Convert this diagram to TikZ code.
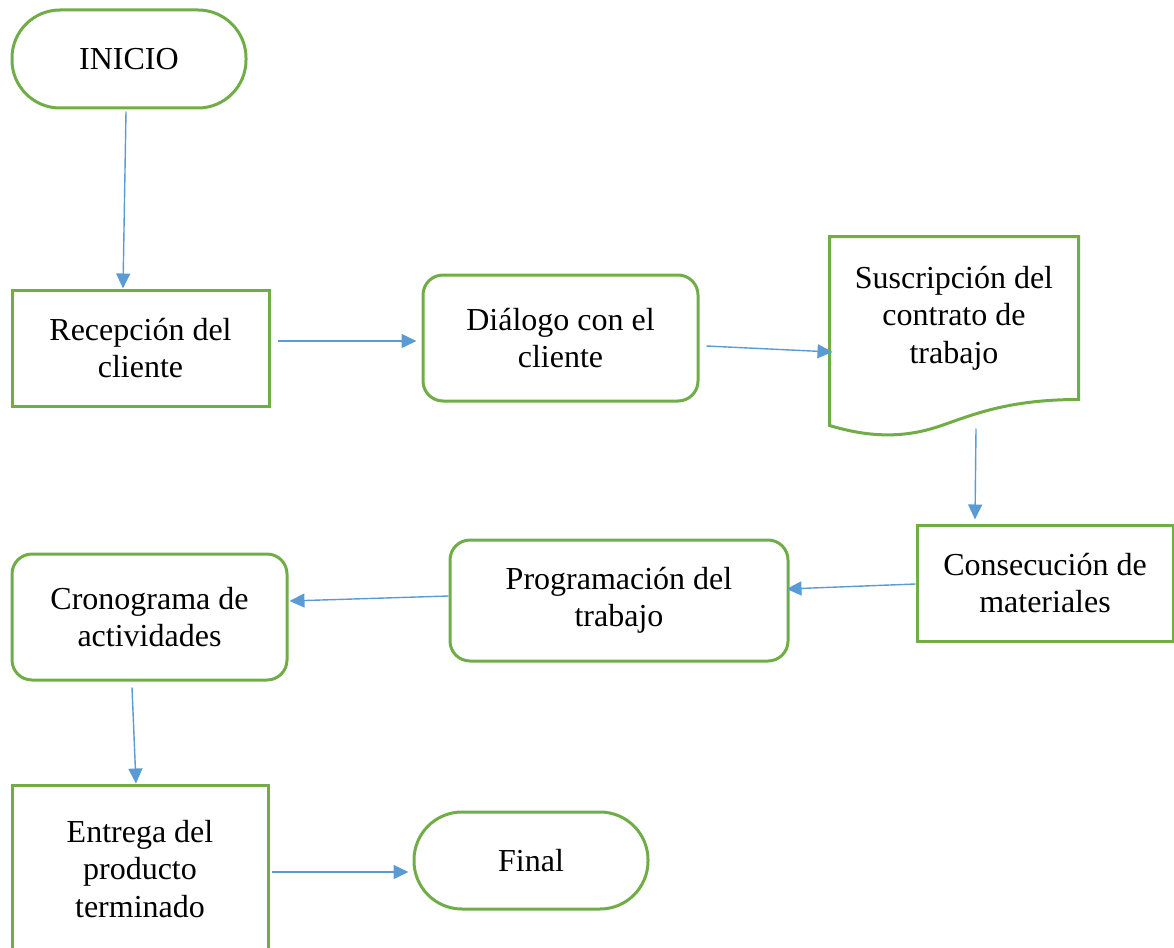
\documentclass[tikz,border=0pt]{standalone}
\usepackage{fontspec}
\setmainfont{Liberation Serif}
\usetikzlibrary{arrows.meta,calc}
\definecolor{gbord}{HTML}{70AD47}
\definecolor{barr}{HTML}{5B9BD5}
\tikzset{
  box/.style={draw=gbord,line width=3pt,inner sep=0pt,align=center,
    font=\fontsize{32}{37.5}\selectfont},
  sqbox/.style={box,rectangle},
  rbox/.style={box,rounded corners=20pt},
  term/.style={box,rounded corners=48pt},
  arr/.style={draw=barr,line width=1.4pt,-{Triangle[length=15pt,width=14pt]}}
}
\begin{document}
\begin{tikzpicture}[x=1pt,y=-1pt]
\useasboundingbox (0,0) rectangle (1174,947);
\clip (0,0) rectangle (1174,947);
\node[term,minimum width=234pt,minimum height=98pt] (ini) at (129,59) {INICIO};
\node[sqbox,minimum width=257pt,minimum height=116pt] (rec) at (140.5,348) {Recepción del\\cliente};
\node[rbox,minimum width=275pt,minimum height=126pt] (dia) at (560.5,338) {Diálogo con el\\cliente};
\node[box,draw=none,minimum width=246pt,minimum height=160pt] (doc) at (954,318) {Suscripción del\\contrato de\\trabajo};
\draw[gbord,line width=3pt,line join=miter]
  (doc.south west) -- (doc.north west) -- (doc.north east) -- (doc.south east)
  .. controls ($(doc.south east)+(-70,0)$) and ($(doc.south east)+(-105,15)$) .. ($(doc.south west)+(112,26)$)
  .. controls ($(doc.south west)+(75,39)$) and ($(doc.south west)+(40,38)$) .. ($(doc.south west)+(0,26)$)
  -- (doc.south west);
\node[sqbox,minimum width=256pt,minimum height=116pt] (con) at (1045,583) {Consecución de\\materiales};
\node[rbox,minimum width=338pt,minimum height=121pt] (pro) at (619,600.5) {Programación del\\trabajo};
\node[rbox,minimum width=275pt,minimum height=126pt] (cro) at (149.5,617) {Cronograma de\\actividades};
\node[sqbox,minimum width=256pt,minimum height=168pt] (ent) at (140,869) {Entrega del\\producto\\terminado};
\node[term,minimum width=234pt,minimum height=97pt] (fin) at (531,860.5) {Final};

\draw[arr] ($(ini.south)+(-3,2)$) -- ($(rec.north)+(-17.5,0)$);
\draw[arr] ($(rec.east)+(7,-7)$) -- ($(dia.west)+(-5,3)$);
\draw[arr] ($(dia.east)+(7,8)$) -- ($(doc.west)+(3,34)$);
\draw[arr] ($(doc.south)+(22,29)$) -- ($(con.north)+(-70,-4)$);
\draw[arr] ($(con.west)+(0,1)$) -- ($(pro.east)+(-3,-11.5)$);
\draw[arr] ($(pro.west)+(0,-4.5)$) -- ($(cro.east)+(1,-16)$);
\draw[arr] ($(cro.south)+(-17.5,6)$) -- ($(ent.north)+(-4,0)$);
\draw[arr] ($(ent.east)+(2,3)$) -- ($(fin.west)+(-4,11.5)$);
\end{tikzpicture}
\end{document}
